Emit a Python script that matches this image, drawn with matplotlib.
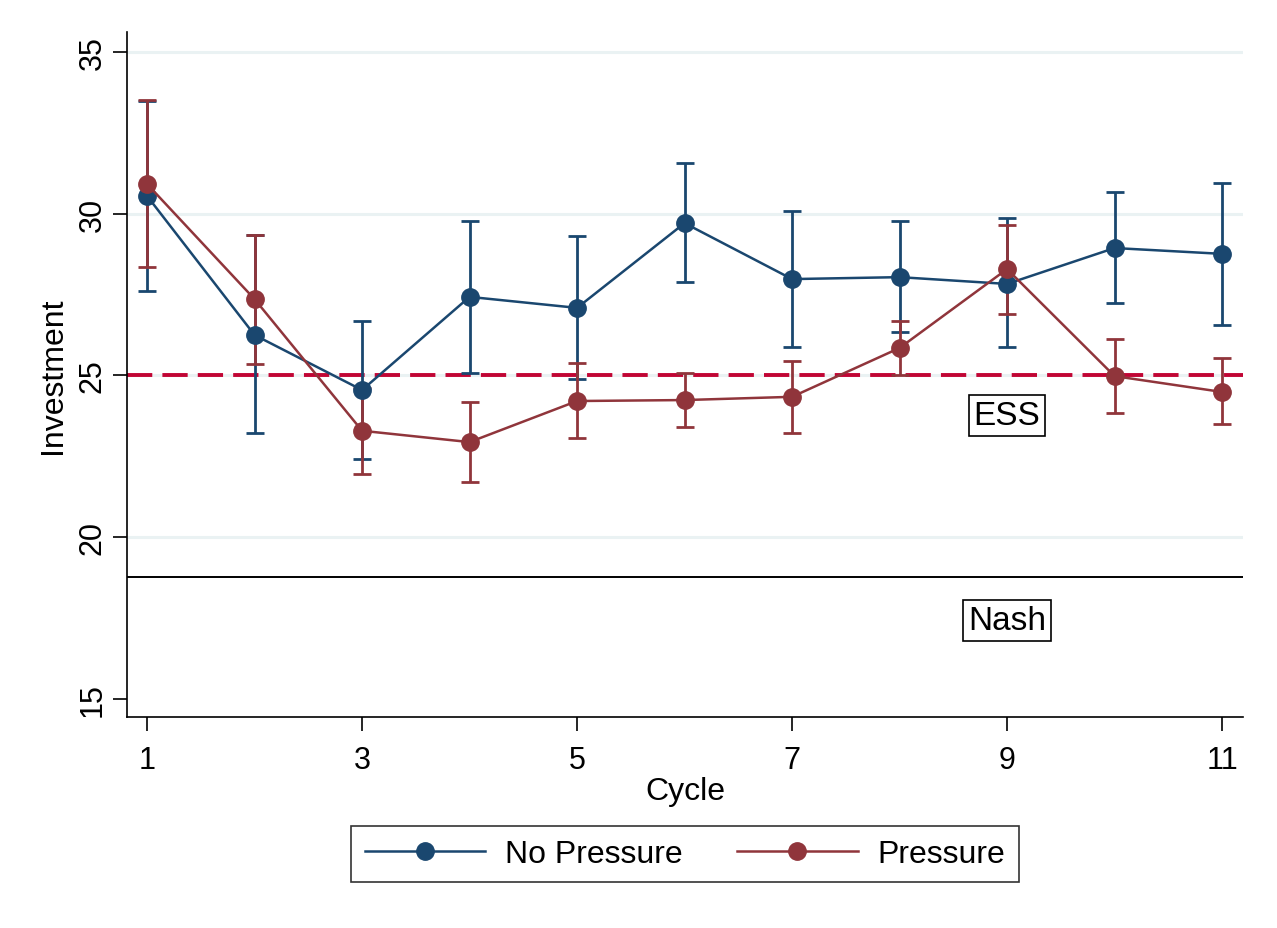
import matplotlib
matplotlib.use("Agg")
import matplotlib.pyplot as plt
from matplotlib.lines import Line2D
import numpy as np

plt.rcParams['font.family'] = ['Liberation Sans', 'DejaVu Sans']

cycles = [1, 2, 3, 4, 5, 6, 7, 8, 9, 10, 11]
np_mean = [30.55, 26.25, 24.55, 27.43, 27.09, 29.71, 27.98, 28.04, 27.83, 28.94, 28.76]
np_lo = [27.61, 23.22, 22.42, 25.08, 24.89, 27.89, 25.88, 26.34, 25.88, 27.24, 26.56]
np_hi = [33.50, 29.34, 26.68, 29.78, 29.31, 31.57, 30.08, 29.78, 29.87, 30.67, 30.95]
pr_mean = [30.92, 27.36, 23.29, 22.94, 24.21, 24.24, 24.34, 25.85, 28.29, 24.98, 24.49]
pr_lo = [28.35, 25.36, 21.95, 21.72, 23.07, 23.41, 23.22, 25.02, 26.90, 23.84, 23.50]
pr_hi = [33.52, 29.34, 24.60, 24.18, 25.40, 25.08, 25.45, 26.68, 29.65, 26.13, 25.55]
ess_value = 25
nash_value = 18.77
series_labels = ["No Pressure", "Pressure"]
xticks = [1, 3, 5, 7, 9, 11]
yticks = [15, 20, 25, 30, 35]

blue = "#1a476f"
red = "#90353b"

fig = plt.figure(figsize=(12.77, 9.29), dpi=100)
ax = fig.add_axes([0.0995, 0.2271, 0.8739, 0.7374])

for v in [20, 25, 30, 35]:
    ax.axhline(v, color="#eaf2f3", lw=2.2, zorder=0)

ax.axhline(ess_value, color="#c10534", lw=2.8, linestyle=(0, (6.5, 2.6)), zorder=1)
ax.axhline(nash_value, color="black", lw=1.4, zorder=1)

def draw(mean, lo, hi, color, label):
    mean = np.array(mean); lo = np.array(lo); hi = np.array(hi)
    ax.errorbar(cycles, mean, yerr=[mean - lo, hi - mean], fmt='none',
                ecolor=color, elinewidth=2.0, capsize=6.5, capthick=2.0, zorder=2)
    ax.plot(cycles, mean, color=color, lw=1.8, marker='o', markersize=12.5,
            label=label, zorder=3)

draw(np_mean, np_lo, np_hi, blue, series_labels[0])
draw(pr_mean, pr_lo, pr_hi, red, series_labels[1])

ax.text(9, 23.75, "ESS", ha='center', va='center', fontsize=24,
        bbox=dict(boxstyle='square,pad=0.15', fc='white', ec='black', lw=1.2))
ax.text(9, 17.41, "Nash", ha='center', va='center', fontsize=24,
        bbox=dict(boxstyle='square,pad=0.15', fc='white', ec='black', lw=1.2))

ax.set_xlim(0.814, 11.195)
ax.set_ylim(14.44, 35.62)
ax.set_xticks(xticks)
ax.set_yticks(yticks)
ax.set_yticklabels([str(t) for t in yticks], rotation=90, va='center')
ax.tick_params(axis='both', labelsize=22, length=10, width=1.2, direction='out')
ax.tick_params(axis='x', pad=10)
ax.tick_params(axis='y', pad=4)
ax.spines['top'].set_visible(False)
ax.spines['right'].set_visible(False)
ax.spines['left'].set_linewidth(1.2)
ax.spines['bottom'].set_linewidth(1.2)
ax.set_xlabel("Cycle", fontsize=23, labelpad=1)
ax.set_ylabel("Investment", fontsize=23, labelpad=7)

handles = [Line2D([0], [0], color=blue, lw=1.8, marker='o', markersize=12.5),
           Line2D([0], [0], color=red, lw=1.8, marker='o', markersize=12.5)]
leg = fig.legend(handles, series_labels, loc='center', bbox_to_anchor=(0.5364, 0.0797),
                 ncol=2, fontsize=23, frameon=True, fancybox=False, edgecolor='black',
                 handlelength=3.76, columnspacing=1.72, borderpad=0.42, handletextpad=0.63)
leg.get_frame().set_linewidth(1.2)

fig.savefig("out.png", dpi=100, facecolor='white')
